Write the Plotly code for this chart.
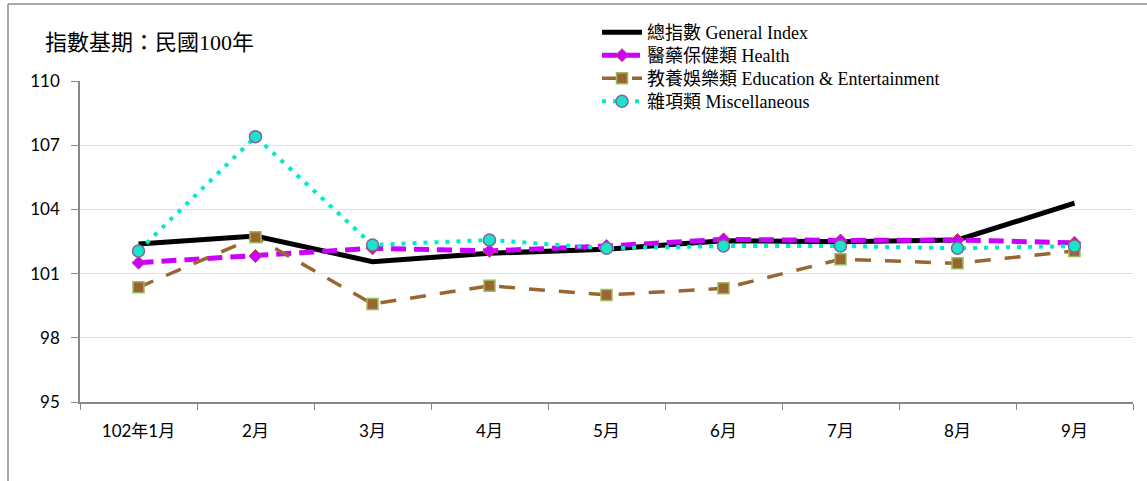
import plotly.graph_objects as go

months = ["102年1月", "2月", "3月", "4月", "5月", "6月", "7月", "8月", "9月"]
general = [102.38, 102.76, 101.56, 101.95, 102.14, 102.54, 102.49, 102.57, 104.29]
health = [101.51, 101.82, 102.18, 102.06, 102.29, 102.60, 102.55, 102.57, 102.44]
education = [100.36, 102.70, 99.58, 100.43, 100.00, 100.31, 101.67, 101.48, 102.06]
misc = [102.06, 107.40, 102.34, 102.57, 102.18, 102.29, 102.29, 102.18, 102.29]

names = ["總指數 General Index", "醫藥保健類 Health",
         "教養娛樂類 Education & Entertainment", "雜項類 Miscellaneous"]
y_ticks = [95, 98, 101, 104, 107, 110]

SERIF = "Liberation Serif, Noto Sans CJK TC, serif"
SANS = "Lato, Noto Sans CJK TC, sans-serif"

W, H = 1147, 481
ML, MR, MT, MB = 80, 14, 81, 79

fig = go.Figure()
fig.add_trace(go.Scatter(
    x=months, y=general, name=names[0], mode="lines", legend="legend",
    line=dict(color="black", width=5)))
fig.add_trace(go.Scatter(
    x=months, y=health, name=names[1], mode="lines+markers", legend="legend2",
    line=dict(color="#CC00FF", width=5, dash="15px,8px"),
    marker=dict(symbol="diamond", size=10, color="#CC00FF",
                line=dict(color="#C0504D", width=1))))
fig.add_trace(go.Scatter(
    x=months, y=education, name=names[2], mode="lines+markers", legend="legend3",
    line=dict(color="#996633", width=3.5, dash="16px,14px"),
    marker=dict(symbol="square", size=11, color="#996633",
                line=dict(color="#9BBB59", width=1.5))))
fig.add_trace(go.Scatter(
    x=months, y=misc, name=names[3], mode="lines+markers", legend="legend4",
    line=dict(color="#00EBC8", width=4, dash="4px,7px"),
    marker=dict(symbol="circle", size=12, color="#19E6C8",
                line=dict(color="#8064A2", width=1.5))))

pw = W - ML - MR
ph = H - MT - MB

def px_x(p):
    return (p - ML) / pw

def px_y(p):
    return (H - MB - p) / ph

def leg(top):
    return dict(
        x=px_x(597), y=px_y(top), xanchor="left", yanchor="top",
        bgcolor="rgba(0,0,0,0)", font=dict(family=SERIF, size=18, color="black"),
        tracegroupgap=0, itemwidth=40,
    )

fig.update_layout(
    width=W, height=H,
    margin=dict(l=ML, r=MR, t=MT, b=MB),
    paper_bgcolor="white", plot_bgcolor="white",
    showlegend=True,
    hovermode=False,
    legend=leg(14), legend2=leg(37), legend3=leg(60), legend4=leg(83),
    xaxis=dict(
        type="category", range=[-0.5, 8.5], tickson="boundaries",
        ticks="outside", ticklen=6, tickcolor="#888888",
        showline=True, linecolor="#888888", linewidth=1.5,
        showgrid=False, tickfont=dict(family=SANS, size=17, color="black"),
        ticklabelstandoff=13,
    ),
    yaxis=dict(
        range=[95, 110], tickvals=y_ticks, ticktext=[str(v) for v in y_ticks],
        ticks="outside", ticklen=7, tickcolor="#888888",
        showline=True, linecolor="#888888", linewidth=1.5,
        showgrid=True, gridcolor="#D9E1F2", gridwidth=1.2,
        zeroline=False, tickfont=dict(family=SANS, size=17, color="black"),
        ticklabelstandoff=8,
    ),
    annotations=[dict(
        text="指數基期：民國100年", xref="paper", yref="paper",
        x=px_x(43), y=px_y(42), xanchor="left", yanchor="middle",
        showarrow=False, font=dict(family=SERIF, size=22, color="black"))],
    shapes=[
        dict(type="line", xref="paper", yref="paper",
             x0=px_x(8), x1=px_x(8), y0=px_y(4), y1=px_y(H),
             line=dict(color="#8c8c8c", width=1.5)),
        dict(type="line", xref="paper", yref="paper",
             x0=px_x(8), x1=px_x(W), y0=px_y(4), y1=px_y(4),
             line=dict(color="#8c8c8c", width=1.5)),
    ],
)

fig.write_html("out.html", config={"displayModeBar": False},
               post_script="document.body.style.margin='0';document.body.style.overflow='hidden';")
